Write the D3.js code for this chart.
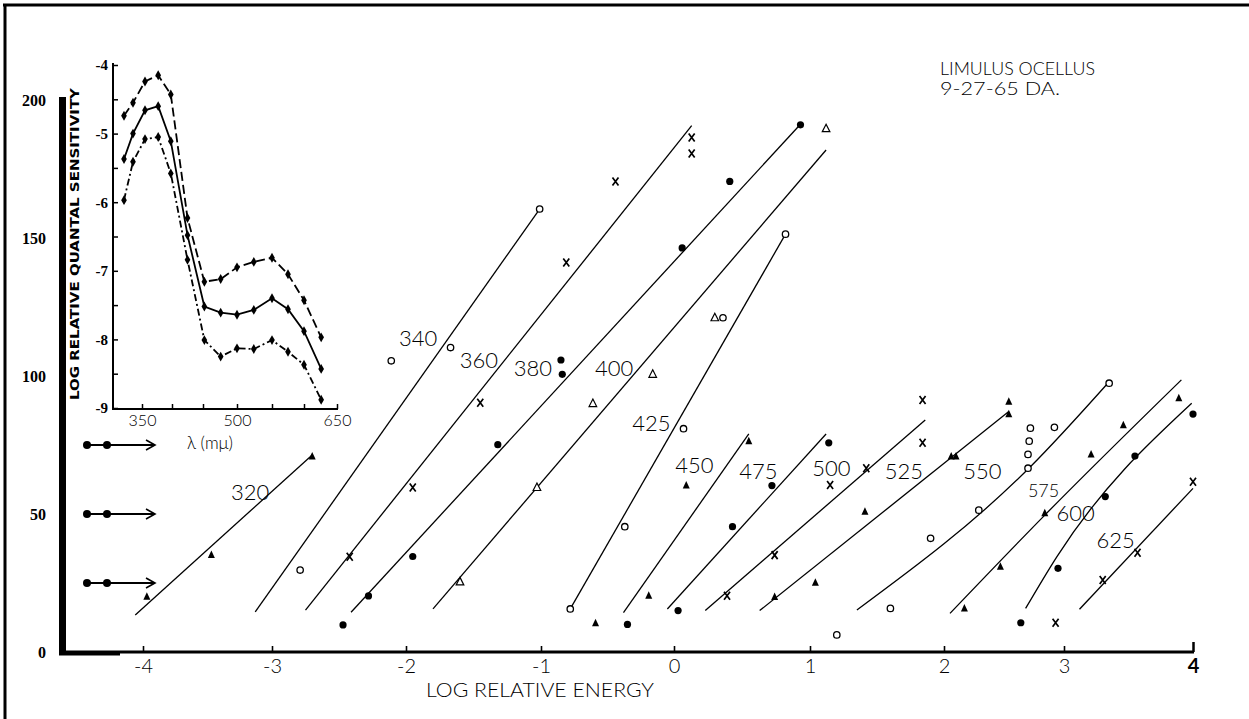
<!DOCTYPE html>
<html>
<head>
<meta charset="utf-8">
<script src="https://cdn.jsdelivr.net/npm/d3@7"></script>
<style>
  body { margin: 0; background: #fff; }
  svg { display: block; }
  .thin { font-family: Lato, "Liberation Sans", sans-serif; font-weight: 300; fill: #000; }
  .serifb { font-family: "Liberation Serif", "DejaVu Serif", serif; font-weight: bold; fill: #000; }
</style>
</head>
<body>
<svg id="chart" width="1249" height="719"></svg>
<script>
// ---- main chart data: log relative energy vs response ----
const energyTicks = [-4, -3, -2, -1, 0, 1, 2, 3, 4];
const responseTicks = [0, 50, 100, 150, 200];
const criterionLevels = [25, 50, 75];

// measured points [log energy, response] and hand-fitted lines per wavelength
const pts320 = [[-3.97, 20.0], [-3.47, 35.1], [-2.70, 70.8]];
const fit320 = [[-4.06, 13.4], [-2.70, 71.4]];
const pts340 = [[-2.79, 29.7], [-2.11, 105.5], [-1.67, 110.3], [-1.01, 160.5]];
const fit340 = [[-3.13, 14.5], [-1.01, 160.5]];
const pts360 = [[-2.42, 34.5], [-1.95, 59.6], [-1.45, 90.3], [-0.81, 141.1], [-0.44, 170.5], [0.13, 186.4], [0.13, 180.6]];
const fit360 = [[-2.75, 15.2], [0.13, 190.7]];
const pts380 = [[-2.47, 9.8], [-2.28, 20.3], [-1.95, 34.6], [-1.32, 75.1], [-0.85, 105.8], [-0.84, 100.6], [0.06, 146.4], [0.41, 170.5], [0.93, 191.0]];
const fit380 = [[-2.41, 14.4], [0.93, 191.2]];
const pts400 = [[-1.60, 25.4], [-1.03, 59.6], [-0.61, 90.0], [-0.16, 100.6], [0.30, 121.1], [1.12, 189.6]];
const fit400 = [[-1.80, 15.6], [1.12, 181.9]];
const pts425 = [[-0.78, 15.6], [-0.37, 45.4], [0.07, 80.9], [0.36, 121.1], [0.82, 151.4]];
const fit425 = [[-0.78, 15.6], [0.82, 151.4]];
const pts450 = [[-0.59, 10.4], [-0.19, 20.4], [0.09, 60.3], [0.55, 76.4]];
const fit450 = [[-0.38, 14.3], [0.55, 79.0]];
const pts475 = [[-0.35, 10.0], [0.03, 15.0], [0.43, 45.4], [0.72, 60.3], [1.14, 75.8]];
const fit475 = [[-0.05, 15.6], [1.12, 79.0]];
const pts500 = [[0.39, 20.4], [0.74, 35.1], [1.15, 60.5], [1.42, 66.6], [1.84, 75.8], [1.84, 91.3]];
const fit500 = [[0.23, 15.0], [1.86, 84.1]];
const pts525 = [[0.74, 19.9], [1.04, 25.1], [1.41, 50.8], [2.06, 70.8], [2.10, 70.8], [2.54, 86.1], [2.54, 90.7]];
const fit525 = [[0.63, 15.0], [2.54, 87.1]];
const pts550 = [[1.20, 6.2], [1.60, 15.8], [1.90, 41.2], [2.29, 51.4], [2.70, 66.6], [2.70, 71.6], [2.71, 76.4], [2.72, 81.1], [2.92, 81.4], [3.35, 97.4]];
const fit550 = [[1.35, 15.2], [2.72, 67.1], [3.35, 97.9]];
const pts575 = [[2.17, 15.8], [2.47, 30.9], [2.84, 50.3], [3.21, 71.6], [3.46, 82.2], [3.89, 91.9]];
const fit575 = [[2.05, 14.0], [2.84, 49.6], [3.91, 98.6]];
const pts600 = [[2.64, 10.6], [2.95, 30.3], [3.32, 56.3], [3.55, 71.0], [4.00, 86.2]];
const fit600 = [[2.68, 15.8], [2.94, 34.5], [3.99, 90.1]];
const pts625 = [[2.93, 10.6], [3.30, 26.1], [3.57, 36.0], [4.00, 61.7]];
const fit625 = [[3.12, 15.5], [4.00, 59.3]];

const wavelengths = [320, 340, 360, 380, 400, 425, 450, 475, 500, 525, 550, 575, 600, 625];

// ---- inset data: log relative quantal sensitivity vs wavelength ----
const insetWavelengths = [320, 335, 355, 377, 398, 425, 452, 476, 500, 524, 550, 575, 600, 626];
const sensUpper  = [-4.74, -4.55, -4.24, -4.15, -4.43, -6.23, -7.16, -7.12, -6.95, -6.87, -6.81, -7.05, -7.43, -7.97];
const sensMiddle = [-5.37, -5.00, -4.66, -4.60, -5.11, -6.48, -7.52, -7.61, -7.64, -7.57, -7.40, -7.56, -7.88, -8.43];
const sensLower  = [-5.97, -5.41, -5.08, -5.05, -5.58, -6.84, -8.01, -8.25, -8.13, -8.14, -8.01, -8.18, -8.37, -8.88];
const insetWlTicks = [350, 400, 450, 500, 550, 600, 650];
const insetWlLabels = [350, 500, 650];
const insetSensTicks = d3.range(-9, -3.9, 0.5);

// ---- styling / layout ----
const markerOf = {320: "triF", 340: "ring", 360: "cross", 380: "dot", 400: "triO", 425: "ring", 450: "triF",
                  475: "dot", 500: "cross", 525: "triF", 550: "ring", 575: "triF", 600: "dot", 625: "cross"};
// label anchors in data units [log energy, response]
const labelAt = {320: [-3.17, 58.0], 340: [-1.91, 114.1], 360: [-1.46, 105.8], 380: [-1.06, 102.9], 400: [-0.45, 102.9],
                 425: [-0.17, 83.0], 450: [0.15, 68.1], 475: [0.62, 65.6], 500: [1.16, 67.0], 525: [1.70, 65.9],
                 550: [2.32, 65.9], 575: [2.83, 58.7], 600: [3.09, 50.4], 625: [3.40, 40.9]};

const series = wavelengths.map(w => ({
  wl: w,
  pts: eval("pts" + w),
  fit: eval("fit" + w),
  marker: markerOf[w]
}));

const svg = d3.select("#chart");

// frame (top and left edges of the scanned plate)
svg.append("line").attr("x1", 3).attr("x2", 1249).attr("y1", 5).attr("y2", 5)
  .attr("stroke", "#000").attr("stroke-width", 3);
svg.append("line").attr("x1", 5).attr("x2", 5).attr("y1", 4).attr("y2", 719)
  .attr("stroke", "#000").attr("stroke-width", 3);

// scales (hand drawn axis, so x ticks are not evenly spaced)
const x = d3.scaleLinear().domain(energyTicks).range([143, 272, 406, 541, 674, 810, 944, 1064, 1193]);
const y = d3.scaleLinear().domain([0, 200]).range([652, 100]);

// y axis bar + labels
svg.append("rect").attr("x", 59).attr("y", 97).attr("width", 7).attr("height", 558).attr("fill", "#000");
const yAxisG = svg.append("g")
  .attr("transform", "translate(62,0)")
  .call(d3.axisLeft(y).tickValues(responseTicks).tickSize(0).tickPadding(16));
yAxisG.select(".domain").remove();
yAxisG.selectAll("text").attr("class", "serifb").style("font-size", "16px").attr("font-family", null);

// x axis
svg.append("line").attr("x1", 59).attr("x2", 1194).attr("y1", 652).attr("y2", 652)
  .attr("stroke", "#000").attr("stroke-width", 3);
svg.append("line").attr("x1", 59).attr("x2", 120).attr("y1", 654).attr("y2", 654)
  .attr("stroke", "#000").attr("stroke-width", 3);
const xAxisG = svg.append("g")
  .attr("transform", "translate(0,652)")
  .call(d3.axisBottom(x).tickValues(energyTicks).tickSize(-6).tickSizeOuter(0).tickPadding(7)
    .tickFormat(d => d < 0 ? "-" + Math.abs(d) : d));
xAxisG.select(".domain").remove();
xAxisG.selectAll(".tick line").attr("stroke-width", 1.6);
xAxisG.selectAll(".tick text").attr("class", "thin").attr("font-family", null)
  .style("font-size", "20px").style("font-weight", d => d === 4 ? 700 : 300);
xAxisG.selectAll(".tick").filter(d => d === 4).select("line").attr("y2", -10).attr("stroke-width", 2.5);

svg.append("text").attr("class", "thin")
  .attr("x", 540).attr("y", 697).attr("text-anchor", "middle")
  .attr("textLength", 228).attr("lengthAdjust", "spacingAndGlyphs")
  .style("font-size", "19px").text("LOG RELATIVE ENERGY");

// criterion arrows at left
const arrows = svg.append("g");
criterionLevels.forEach(v => {
  const yy = y(v);
  arrows.append("line").attr("x1", 87).attr("x2", 154).attr("y1", yy).attr("y2", yy)
    .attr("stroke", "#000").attr("stroke-width", 2);
  arrows.append("path").attr("d", `M${146},${yy - 5}L${155},${yy}L${146},${yy + 5}`)
    .attr("fill", "none").attr("stroke", "#000").attr("stroke-width", 1.6);
  [87, 107].forEach(cx => arrows.append("circle").attr("cx", cx).attr("cy", yy).attr("r", 4).attr("fill", "#000"));
});

// fitted lines
const line = d3.line().x(d => x(d[0])).y(d => y(d[1])).curve(d3.curveMonotoneX);
svg.append("g").selectAll("path").data(series).enter().append("path")
  .attr("d", d => line(d.fit))
  .attr("fill", "none").attr("stroke", "#000").attr("stroke-width", 1.3);

// markers
function drawMarker(g, type) {
  if (type === "ring") {
    g.append("circle").attr("r", 3.2).attr("fill", "#fff").attr("stroke", "#000").attr("stroke-width", 1.3);
  } else if (type === "dot") {
    g.append("circle").attr("r", 3.6).attr("fill", "#000");
  } else if (type === "cross") {
    g.append("path").attr("d", "M-3,-4L3,4M3,-4L-3,4").attr("stroke", "#000").attr("stroke-width", 1.7).attr("fill", "none");
  } else if (type === "triF") {
    g.append("path").attr("d", "M0,-4.5L3.5,3L-3.5,3Z").attr("fill", "#000");
  } else {
    g.append("path").attr("d", "M0,-4.5L3.8,3L-3.8,3Z").attr("fill", "#fff").attr("stroke", "#000").attr("stroke-width", 1.2);
  }
}
series.forEach(s => {
  svg.append("g").selectAll("g").data(s.pts).enter().append("g")
    .attr("transform", d => `translate(${x(d[0])},${y(d[1])})`)
    .each(function () { drawMarker(d3.select(this), s.marker); });
});

// wavelength labels
svg.append("g").selectAll("text").data(series).enter().append("text")
  .attr("class", "thin")
  .attr("x", d => x(labelAt[d.wl][0]))
  .attr("y", d => y(labelAt[d.wl][1]))
  .attr("text-anchor", "middle").attr("dominant-baseline", "central")
  .style("font-size", d => d.wl === 575 ? "18px" : "22px")
  .text(d => d.wl);

// title
svg.append("text").attr("class", "thin").attr("x", 940).attr("y", 75)
  .attr("textLength", 155).attr("lengthAdjust", "spacingAndGlyphs")
  .style("font-size", "18px").text("LIMULUS  OCELLUS");
svg.append("text").attr("class", "thin").attr("x", 940).attr("y", 95)
  .attr("textLength", 120).attr("lengthAdjust", "spacingAndGlyphs")
  .style("font-size", "18px").text("9-27-65 DA.");

// ---- inset ----
const xi = d3.scaleLinear().domain(insetWlTicks).range([142, 172, 203, 237, 272, 304, 337]);
const yi = d3.scaleLinear().domain([-9, -4]).range([408, 65]);

const inset = svg.append("g");
inset.append("line").attr("x1", 113).attr("x2", 113).attr("y1", 63).attr("y2", 410)
  .attr("stroke", "#000").attr("stroke-width", 2);
inset.append("line").attr("x1", 112).attr("x2", 338).attr("y1", 409).attr("y2", 409)
  .attr("stroke", "#000").attr("stroke-width", 2);

const yiAxis = inset.append("g").attr("transform", "translate(113,0)")
  .call(d3.axisLeft(yi).tickValues(insetSensTicks).tickSize(-5).tickPadding(5)
    .tickFormat(d => Number.isInteger(d) ? "-" + Math.abs(d) : ""));
yiAxis.select(".domain").remove();
yiAxis.selectAll(".tick line").attr("stroke-width", 1.5);
yiAxis.selectAll("text").attr("class", "serifb").attr("font-family", null).style("font-size", "15px");

const xiAxis = inset.append("g").attr("transform", "translate(0,409)")
  .call(d3.axisBottom(xi).tickValues(insetWlTicks).tickSize(-5).tickPadding(6)
    .tickFormat(d => insetWlLabels.includes(d) ? d : ""));
xiAxis.select(".domain").remove();
xiAxis.selectAll(".tick line").attr("stroke-width", 1.5);
xiAxis.selectAll("text").attr("class", "thin").attr("font-family", null).style("font-size", "16px");

inset.append("text").attr("class", "thin")
  .attr("x", 210).attr("y", 449).attr("text-anchor", "middle")
  .style("font-size", "17px").text("λ (mμ)");

inset.append("text")
  .attr("transform", "translate(79,244) rotate(-90)")
  .attr("text-anchor", "middle")
  .attr("textLength", 312).attr("lengthAdjust", "spacingAndGlyphs")
  .style("font-family", "'DejaVu Sans Condensed', 'DejaVu Sans', sans-serif")
  .style("font-weight", "bold").style("font-size", "12px")
  .text("LOG RELATIVE QUANTAL SENSITIVITY");

const insetCurves = [
  {vals: sensUpper, dash: "9,4"},
  {vals: sensMiddle, dash: null},
  {vals: sensLower, dash: "7,3,2,3"}
];
const iline = d3.line().x(d => xi(d[0])).y(d => yi(d[1]));
insetCurves.forEach(c => {
  const pts = insetWavelengths.map((w, i) => [w, c.vals[i]]);
  inset.append("path").attr("d", iline(pts))
    .attr("fill", "none").attr("stroke", "#000").attr("stroke-width", 1.8)
    .attr("stroke-dasharray", c.dash);
  inset.append("g").selectAll("path").data(pts).enter().append("path")
    .attr("d", d3.symbol(d3.symbolDiamond, 28))
    .attr("transform", d => `translate(${xi(d[0])},${yi(d[1])})`)
    .attr("fill", "#000");
});
</script>
</body>
</html>
